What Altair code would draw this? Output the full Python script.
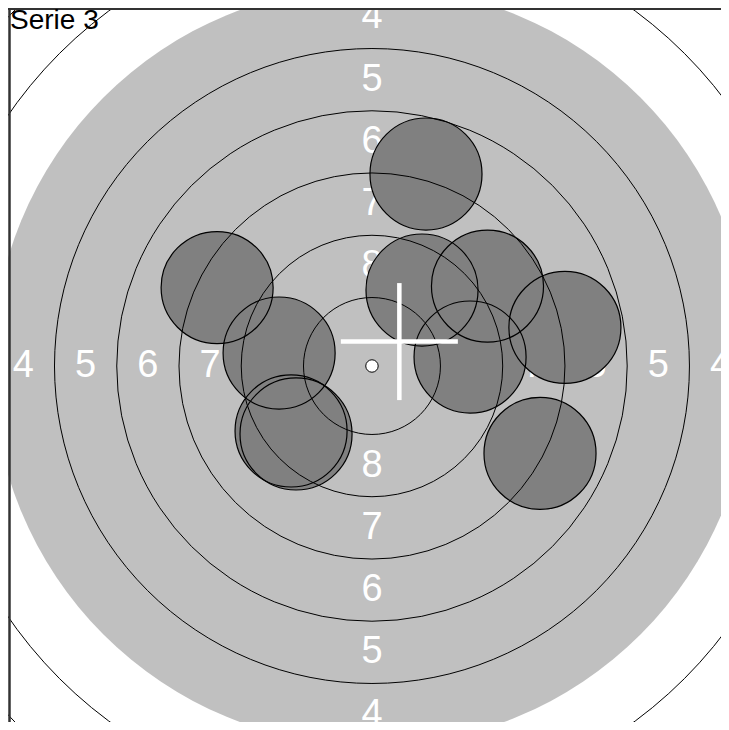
import altair as alt
import pandas as pd

# ---- data (millimetres on a 10 m air-rifle target) ----
ring_numbers = [9, 8, 7, 6, 5, 3, 2, 1]
ring_radius = [2.75, 5.25, 7.75, 10.25, 12.75, 17.75, 20.25, 22.75]
black_radius = 15.25          # edge of the aiming (grey) area, ring 4
ten_dot_radius = 0.25

label_numbers = [8, 7, 6, 5, 4]
label_dist = [4.0, 6.5, 9.0, 11.5, 14.0]

shot_x = [2.17, -6.22, -3.73, -3.25, -3.05, 2.01, 4.64, 7.75, 3.94, 6.75]
shot_y = [7.71, 3.15, 0.52, -2.61, -2.73, 3.05, 3.21, 1.55, 0.36, -3.51]
pellet_radius = 2.25

mpi_x = [1.10]
mpi_y = [0.98]
cross_half = 2.35

series_title = "Serie 3"

# ---- tables ----
rings = pd.DataFrame({"ring": ring_numbers, "r": ring_radius, "x": 0.0, "y": 0.0})
disc = pd.DataFrame({"r": [black_radius], "x": [0.0], "y": [0.0]})
dot = pd.DataFrame({"r": [ten_dot_radius], "x": [0.0], "y": [0.0]})
shots = pd.DataFrame({"x": shot_x, "y": shot_y, "r": pellet_radius})

lab_rows = []
for n, d in zip(label_numbers, label_dist):
    for dx, dy in [(0, 1), (0, -1), (1, 0), (-1, 0)]:
        lab_rows.append({"txt": str(n), "x": dx * d, "y": dy * d})
labels = pd.DataFrame(lab_rows)

cross = pd.DataFrame({
    "x": [mpi_x[0] - cross_half, mpi_x[0]],
    "x2": [mpi_x[0] + cross_half, mpi_x[0]],
    "y": [mpi_y[0], mpi_y[0] - cross_half],
    "y2": [mpi_y[0], mpi_y[0] + cross_half],
})
title_df = pd.DataFrame({"t": [series_title]})

# ---- scales ----
W, H = 713, 714
PX_PER_MM = 24.9
xs = alt.Scale(domain=[-14.62, 14.02], nice=False, zero=False)
ys = alt.Scale(domain=[-14.30, 14.38], nice=False, zero=False)
ss = alt.Scale(type="pow", exponent=2, domain=[0, 25],
               range=[0, (2 * 25 * PX_PER_MM) ** 2])

X = alt.X("x:Q", scale=xs, axis=None)
Y = alt.Y("y:Q", scale=ys, axis=None)
S = alt.Size("r:Q", scale=ss, legend=None)

grey_disc = alt.Chart(disc).mark_point(
    shape="circle", filled=True, color="#c0c0c0", opacity=1, strokeWidth=0, clip=True
).encode(x=X, y=Y, size=S)

label_layer = alt.Chart(labels).mark_text(
    color="white", font="Liberation Sans", fontSize=38, align="center",
    baseline="middle", clip=True
).encode(x=X, y=Y, text="txt:N")

shot_fill = alt.Chart(shots).mark_point(
    shape="circle", filled=True, color="#808080", opacity=1, strokeWidth=0, clip=True
).encode(x=X, y=Y, size=S)

ring_lines = alt.Chart(rings).mark_point(
    shape="circle", filled=False, color="black", opacity=1, strokeWidth=1, clip=True
).encode(x=X, y=Y, size=S)

shot_outline = alt.Chart(shots).mark_point(
    shape="circle", filled=False, color="black", opacity=1, strokeWidth=1.2, clip=True
).encode(x=X, y=Y, size=S)

cross_layer = alt.Chart(cross).mark_rule(
    color="white", strokeWidth=4.5, clip=True
).encode(x=X, y=Y, x2="x2:Q", y2="y2:Q")

dot_layer = alt.Chart(dot).mark_point(
    shape="circle", filled=True, fill="white", stroke="black", opacity=1, strokeWidth=1, clip=True
).encode(x=X, y=Y, size=S)

frame_left = alt.Chart(title_df).mark_rule(color="#333333", strokeWidth=2.5).encode(
    x=alt.value(1.5), y=alt.value(0), y2=alt.value(H))
frame_top = alt.Chart(title_df).mark_rule(color="#333333", strokeWidth=2).encode(
    x=alt.value(0), x2=alt.value(W), y=alt.value(1))

title_layer = alt.Chart(title_df).mark_text(
    color="black", font="Liberation Sans", fontSize=28, align="left", baseline="alphabetic"
).encode(x=alt.value(2), y=alt.value(21), text="t:N")

chart = alt.layer(
    grey_disc, label_layer, shot_fill, ring_lines, shot_outline,
    cross_layer, dot_layer, frame_left, frame_top, title_layer
).properties(
    width=W, height=H, padding=0, autosize="none", background="white"
).configure_view(strokeWidth=0)

chart.save("out.html", embed_options={"renderer": "svg", "actions": False})
